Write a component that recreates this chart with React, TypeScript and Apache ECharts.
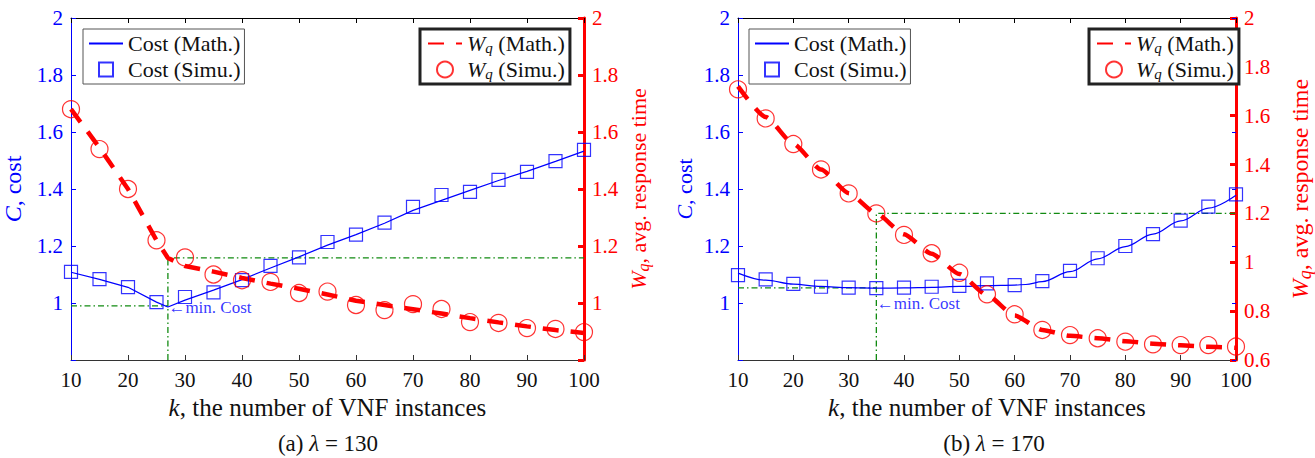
import React, { useEffect, useRef } from "react";
import * as echarts from "echarts";

// ---------- data ----------
const kSimu = [10, 15, 20, 25, 30, 35, 40, 45, 50, 55, 60, 65, 70, 75, 80, 85, 90, 95, 100];
const xTicks = [10, 20, 30, 40, 50, 60, 70, 80, 90, 100];

// (a) lambda = 130
const kMathA = [10, 15, 20, 25, 27, 30, 35, 40, 45, 50, 55, 60, 65, 70, 75, 80, 85, 90, 95, 100];
const costMathA = [1.108, 1.083, 1.055, 1.003, 0.986, 1.01, 1.045, 1.082, 1.123, 1.162, 1.203, 1.24, 1.28, 1.325, 1.36, 1.395, 1.43, 1.462, 1.497, 1.533];
const costSimuA = [1.109, 1.084, 1.056, 1.003, 1.021, 1.037, 1.08, 1.13, 1.16, 1.214, 1.24, 1.282, 1.337, 1.379, 1.39, 1.432, 1.46, 1.498, 1.537];
const wqMathA = [1.68, 1.545, 1.4, 1.22, 1.158, 1.13, 1.11, 1.088, 1.068, 1.05, 1.03, 1.008, 0.993, 0.978, 0.963, 0.947, 0.932, 0.918, 0.905, 0.895];
const wqSimuA = [1.68, 1.54, 1.4, 1.22, 1.16, 1.1, 1.08, 1.074, 1.035, 1.04, 0.993, 0.975, 0.996, 0.979, 0.933, 0.93, 0.912, 0.909, 0.898];
const kMinA = 27;
const costMinA = 0.99;
const wqAtMinA = 1.158;

// (b) lambda = 170
const kMathB = [10, 15, 20, 25, 30, 35, 40, 45, 50, 55, 60, 62, 65, 70, 75, 80, 85, 90, 95, 100];
const costMathB = [1.105, 1.08, 1.066, 1.058, 1.054, 1.052, 1.053, 1.055, 1.058, 1.061, 1.063, 1.065, 1.075, 1.11, 1.155, 1.198, 1.242, 1.288, 1.333, 1.378];
const costSimuB = [1.098, 1.083, 1.067, 1.057, 1.054, 1.052, 1.054, 1.057, 1.06, 1.069, 1.063, 1.077, 1.113, 1.157, 1.2, 1.242, 1.289, 1.338, 1.381];
const kWqMathB = [10, 15, 20, 25, 30, 35, 40, 45, 50, 55, 60, 65, 70, 75, 80, 85, 90, 95, 100];
const wqMathB = [1.72, 1.595, 1.485, 1.38, 1.283, 1.2, 1.115, 1.035, 0.952, 0.866, 0.782, 0.723, 0.699, 0.689, 0.677, 0.667, 0.66, 0.654, 0.65];
const wqSimuB = [1.708, 1.589, 1.484, 1.38, 1.282, 1.2, 1.112, 1.037, 0.957, 0.869, 0.787, 0.723, 0.702, 0.689, 0.675, 0.664, 0.661, 0.661, 0.655];
const kMinB = 35;
const costMinB = 1.053;
const wqAtMinB = 1.2;

// axis ranges
const costAxis = { min: 0.8, max: 2, interval: 0.2 };
const wqAxisA = { min: 0.8, max: 2, interval: 0.2 };
const wqAxisB = { min: 0.6, max: 2, interval: 0.2 };

// ---------- style ----------
const FONT = "Liberation Serif";
const BLUE = "#0000ff";
const RED = "#ff0000";
const GREEN = "#118a11";
const SQUARE_ICON = "path://M0,0L10,0L10,10L0,10Z";

const zip = (xs: number[], ys: number[]) => xs.map((x, i) => [x, ys[i]]);
const fmt = (v: number) => String(parseFloat(v.toFixed(1)));

function xAxes(gridIndex: number) {
  const base = {
    gridIndex,
    type: "value",
    min: xTicks[0],
    max: xTicks[xTicks.length - 1],
    interval: xTicks[1] - xTicks[0],
    splitLine: { show: false },
  };
  return [
    {
      ...base,
      position: "bottom",
      axisLine: { lineStyle: { color: "#333", width: 1 } },
      axisTick: { inside: true, length: 5, lineStyle: { color: "#333" } },
      axisLabel: { color: "#111", fontFamily: FONT, fontSize: 21, margin: 9 },
      name: "{i|k}, the number of VNF instances",
      nameLocation: "middle",
      nameGap: 31,
      nameTextStyle: {
        color: "#111",
        fontFamily: FONT,
        fontSize: 25,
        rich: { i: { fontStyle: "italic", fontFamily: FONT, fontSize: 25, color: "#111" } },
      },
    },
    {
      ...base,
      position: "top",
      axisLine: { lineStyle: { color: "#000", width: 1 } },
      axisTick: { inside: true, length: 5, lineStyle: { color: "#000" } },
      axisLabel: { show: false },
    },
  ];
}

function yLeft(gridIndex: number, gap: number, fs: number) {
  return {
    gridIndex,
    type: "value",
    position: "left",
    ...costAxis,
    splitLine: { show: false },
    axisLine: { show: true, lineStyle: { color: BLUE, width: 1 } },
    axisTick: { show: true, inside: true, length: 5, lineStyle: { color: BLUE } },
    axisLabel: {
      color: BLUE,
      fontFamily: FONT,
      fontSize: 21,
      margin: 8,
      formatter: (v: number) => (Math.abs(v - costAxis.min) < 1e-6 ? "" : fmt(v)),
    },
    name: "{i|C}, cost",
    nameLocation: "middle",
    nameRotate: 90,
    nameGap: gap,
    nameTextStyle: {
      color: BLUE,
      fontFamily: FONT,
      fontSize: fs,
      rich: { i: { fontStyle: "italic", fontFamily: FONT, fontSize: fs, color: BLUE } },
    },
  };
}

function yRight(gridIndex: number, rng: { min: number; max: number; interval: number }, hideMin: boolean, gap: number, fs: number) {
  return {
    gridIndex,
    type: "value",
    position: "right",
    ...rng,
    splitLine: { show: false },
    axisLine: { show: true, lineStyle: { color: RED, width: 3 } },
    axisTick: { show: true, inside: true, length: 6, lineStyle: { color: RED, width: 3 } },
    axisLabel: {
      color: RED,
      fontFamily: FONT,
      fontSize: 21,
      margin: 8,
      formatter: (v: number) => (hideMin && Math.abs(v - rng.min) < 1e-6 ? "" : fmt(v)),
    },
    name: "{i|W}{s|q}, avg. response time",
    nameLocation: "middle",
    nameRotate: 90,
    nameGap: gap,
    nameTextStyle: {
      color: RED,
      fontFamily: FONT,
      fontSize: fs,
      lineHeight: fs + 4,
      rich: {
        i: { fontStyle: "italic", fontFamily: FONT, fontSize: fs, color: RED, lineHeight: fs + 4 },
        s: { fontStyle: "italic", fontFamily: FONT, fontSize: fs - 6, color: RED, lineHeight: fs - 6, verticalAlign: "bottom" },
      },
    },
  };
}

function plotSeries(
  xi: number,
  yl: number,
  yr: number,
  kCostMath: number[],
  costMath: number[],
  costSimu: number[],
  kWqMath: number[],
  wqMath: number[],
  wqSimu: number[],
  kMin: number,
  costMin: number,
  wqAtMin: number,
  wqMin: number,
  labelOffset: number,
  smooth: boolean
) {
  return [
    {
      name: "Cost (Math.)",
      type: "line",
      xAxisIndex: xi,
      yAxisIndex: yl,
      data: zip(kCostMath, costMath),
      symbol: "none",
      smooth: smooth ? 0.35 : false,
      smoothMonotone: "x",
      lineStyle: { color: BLUE, width: 1.2 },
      itemStyle: { color: BLUE },
      z: 3,
    },
    {
      name: "Cost (Simu.)",
      type: "scatter",
      xAxisIndex: xi,
      yAxisIndex: yl,
      data: zip(kSimu, costSimu),
      symbol: "rect",
      symbolSize: 13,
      itemStyle: { color: "rgba(0,0,0,0)", borderColor: BLUE, borderWidth: 1.2 },
      z: 4,
    },
    {
      name: "Wq (Math.)",
      type: "line",
      xAxisIndex: xi,
      yAxisIndex: yr,
      data: zip(kWqMath, wqMath),
      symbol: "none",
      smooth: smooth ? 0.2 : false,
      smoothMonotone: "x",
      lineStyle: { color: RED, width: 4.5, type: [16, 12] },
      itemStyle: { color: RED },
      z: 3,
    },
    {
      name: "Wq (Simu.)",
      type: "scatter",
      xAxisIndex: xi,
      yAxisIndex: yr,
      data: zip(kSimu, wqSimu),
      symbol: "circle",
      symbolSize: 17,
      itemStyle: { color: "rgba(0,0,0,0)", borderColor: RED, borderWidth: 1.2 },
      z: 4,
    },
    {
      name: "guide-cost",
      type: "line",
      xAxisIndex: xi,
      yAxisIndex: yl,
      data: [
        [xTicks[0], costMin],
        [kMin, costMin],
      ],
      symbol: "none",
      lineStyle: { color: GREEN, width: 1.3, type: [6, 3, 1.5, 3] },
      z: 2,
    },
    {
      name: "guide-wq",
      type: "line",
      xAxisIndex: xi,
      yAxisIndex: yr,
      data: [
        [kMin, wqMin],
        [kMin, wqAtMin],
        [xTicks[xTicks.length - 1], wqAtMin],
      ],
      symbol: "none",
      lineStyle: { color: GREEN, width: 1.3, type: [6, 3, 1.5, 3] },
      z: 2,
    },
    {
      name: "min-label",
      type: "scatter",
      xAxisIndex: xi,
      yAxisIndex: yl,
      data: [[kMin, costMin]],
      symbolSize: 1,
      itemStyle: { color: "rgba(0,0,0,0)" },
      label: {
        show: true,
        position: "right",
        distance: 0,
        offset: [0, labelOffset],
        formatter: "\u2190min. Cost",
        color: BLUE,
        fontFamily: FONT,
        fontSize: 17,
      },
      z: 5,
    },
  ];
}

const legendText = {
  color: "#111",
  fontFamily: FONT,
  fontSize: 22,
  lineHeight: 23,
  rich: {
    i: { fontStyle: "italic", fontFamily: FONT, fontSize: 22, color: "#111", lineHeight: 23 },
    s: { fontStyle: "italic", fontFamily: FONT, fontSize: 15, color: "#111", lineHeight: 15, verticalAlign: "bottom" },
  },
};

function costLegend(left: number) {
  return {
    data: [
      { name: "Cost (Math.)", itemStyle: { opacity: 0 } },
      { name: "Cost (Simu.)", icon: SQUARE_ICON },
    ],
    orient: "vertical",
    left,
    top: 29,
    padding: [3, 4, 3, 5],
    itemGap: 3,
    itemWidth: 34,
    itemHeight: 14,
    backgroundColor: "#fff",
    borderColor: "#555",
    borderWidth: 1,
    borderRadius: 0,
    selectedMode: false,
    textStyle: legendText,
  };
}

function wqLegend(left: number) {
  return {
    data: [
      { name: "Wq (Math.)", itemStyle: { opacity: 0 } },
      { name: "Wq (Simu.)" },
    ],
    orient: "vertical",
    left,
    top: 29,
    padding: [3, 5, 3, 7],
    itemGap: 3,
    itemWidth: 34,
    itemHeight: 16,
    backgroundColor: "#fff",
    borderColor: "#222",
    borderWidth: 3,
    borderRadius: 0,
    selectedMode: false,
    formatter: (n: string) => (n === "Wq (Math.)" ? "{i|W}{s|q} (Math.)" : "{i|W}{s|q} (Simu.)"),
    textStyle: legendText,
  };
}

export default function App() {
  const ref = useRef<HTMLDivElement>(null);

  useEffect(() => {
    if (!ref.current) return;
    const chart = echarts.init(ref.current, undefined, { renderer: "svg" });
    const option: any = {
      animation: false,
      backgroundColor: "#fff",
      textStyle: { fontFamily: FONT },
      grid: [
        { left: 71, top: 18, width: 513, height: 342 },
        { left: 738, top: 18, width: 512, height: 342 },
      ],
      xAxis: [...xAxes(0), ...xAxes(1)],
      yAxis: [
        yLeft(0, 46, 24),
        yRight(0, wqAxisA, true, 41, 22),
        yLeft(1, 43, 22),
        yRight(1, wqAxisB, false, 50, 24),
        {
          gridIndex: 1,
          type: "value",
          position: "right",
          ...costAxis,
          splitLine: { show: false },
          axisLine: { show: false },
          axisTick: { show: true, inside: true, length: 4, lineStyle: { color: BLUE } },
          axisLabel: { show: false },
        },
      ],
      legend: [costLegend(83), wqLegend(420), costLegend(749), wqLegend(1089)],
      series: [
        ...plotSeries(0, 0, 1, kMathA, costMathA, costSimuA, kMathA, wqMathA, wqSimuA, kMinA, costMinA, wqAtMinA, wqAxisA.min, 2, false),
        ...plotSeries(2, 2, 3, kMathB, costMathB, costSimuB, kWqMathB, wqMathB, wqSimuB, kMinB, costMinB, wqAtMinB, wqAxisB.min, 16, true),
      ],
      graphic: [
        {
          type: "text",
          x: 328,
          y: 443,
          style: {
            text: "(a) {i|\u03bb} = 130",
            fill: "#111",
            fontFamily: FONT,
            fontSize: 23,
            align: "center",
            verticalAlign: "middle",
            rich: { i: { fontStyle: "italic", fontFamily: FONT, fontSize: 23, fill: "#111" } },
          },
        },
        {
          type: "text",
          x: 994,
          y: 443,
          style: {
            text: "(b) {i|\u03bb} = 170",
            fill: "#111",
            fontFamily: FONT,
            fontSize: 23,
            align: "center",
            verticalAlign: "middle",
            rich: { i: { fontStyle: "italic", fontFamily: FONT, fontSize: 23, fill: "#111" } },
          },
        },
      ],
    };
    chart.setOption(option);
    return () => chart.dispose();
  }, []);

  return (
    <div
      ref={ref}
      style={{ position: "absolute", left: 0, top: 0, width: 1315, height: 458, background: "#fff" }}
    />
  );
}
